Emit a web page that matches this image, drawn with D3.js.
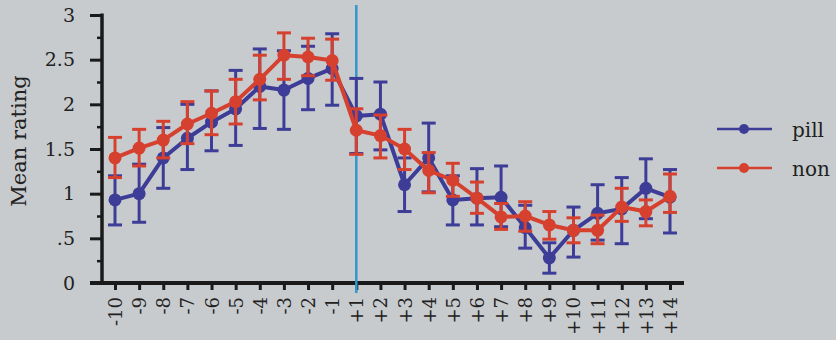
<!DOCTYPE html>
<html>
<head>
<meta charset="utf-8">
<script src="https://cdn.jsdelivr.net/npm/d3@7"></script>
<style>
  html, body { margin: 0; padding: 0; background: #c8cbce; }
  svg { display: block; }
  text { font-family: "DejaVu Serif", serif; fill: #222; }
</style>
</head>
<body>
<svg id="chart" width="836" height="340"></svg>
<script>
// Time points relative to the event (days before / after)
const categories = ["-10","-9","-8","-7","-6","-5","-4","-3","-2","-1",
  "+1","+2","+3","+4","+5","+6","+7","+8","+9","+10","+11","+12","+13","+14"];

// "pill" group: mean rating and error-bar bounds
const pillMean = [0.93, 1.00, 1.40, 1.62, 1.80, 1.95, 2.20, 2.16, 2.29, 2.40,
  1.87, 1.89, 1.10, 1.40, 0.93, 0.95, 0.96, 0.62, 0.28, 0.59, 0.78, 0.83, 1.06, 0.96];
const pillHigh = [1.20, 1.33, 1.74, 2.00, 2.15, 2.38, 2.62, 2.60, 2.65, 2.79,
  2.29, 2.25, 1.40, 1.79, 1.20, 1.28, 1.31, 0.87, 0.45, 0.85, 1.10, 1.18, 1.39, 1.27];
const pillLow = [0.65, 0.68, 1.06, 1.27, 1.48, 1.54, 1.73, 1.72, 1.94, 1.99,
  1.45, 1.49, 0.80, 1.02, 0.65, 0.65, 0.63, 0.39, 0.11, 0.29, 0.48, 0.44, 0.72, 0.56];

// "non" group: mean rating and error-bar bounds
const nonMean = [1.40, 1.51, 1.60, 1.78, 1.90, 2.03, 2.28, 2.55, 2.53, 2.49,
  1.71, 1.65, 1.50, 1.26, 1.15, 0.95, 0.74, 0.75, 0.65, 0.59, 0.59, 0.85, 0.80, 0.97];
const nonHigh = [1.63, 1.72, 1.81, 2.03, 2.15, 2.28, 2.55, 2.80, 2.74, 2.73,
  1.95, 1.88, 1.72, 1.46, 1.34, 1.13, 0.89, 0.91, 0.80, 0.73, 0.76, 1.06, 0.93, 1.22];
const nonLow = [1.18, 1.31, 1.40, 1.56, 1.66, 1.78, 2.05, 2.28, 2.32, 2.27,
  1.44, 1.40, 1.27, 1.01, 0.97, 0.78, 0.60, 0.58, 0.49, 0.45, 0.44, 0.69, 0.64, 0.79];

const yMajorTicks = [0, 0.5, 1, 1.5, 2, 2.5, 3];
const yMinorTicks = [0.25, 0.75, 1.25, 1.75, 2.25, 2.75];
const yTickLabels = ["0", ".5", "1", "1.5", "2", "2.5", "3"];
const eventMarker = "+1";

const seriesNames = ["pill", "non"];
const seriesColors = ["#3d3d97", "#d6412f"];

const svg = d3.select("#chart");

const x = d3.scalePoint().domain(categories).range([115, 670]);
const y = d3.scaleLinear().domain([0, 3]).range([283, 15]);

const axisLeftX = 102, axisY = 283;

// ---- Y axis ----
const yAxis = svg.append("g")
  .attr("transform", `translate(${axisLeftX},0)`)
  .call(d3.axisLeft(y).tickValues(yMajorTicks).tickSize(12).tickPadding(15)
    .tickFormat((d, i) => yTickLabels[i]));
yAxis.select(".domain").remove();
yAxis.selectAll(".tick line").attr("stroke", "#1a1a1a").attr("stroke-width", 3);
yAxis.selectAll(".tick text").attr("font-size", 19).attr("fill", "#222")
  .attr("font-family", "DejaVu Serif, serif");

const yMinor = svg.append("g")
  .attr("transform", `translate(${axisLeftX},0)`)
  .call(d3.axisLeft(y).tickValues(yMinorTicks).tickSize(5).tickFormat(""));
yMinor.select(".domain").remove();
yMinor.selectAll(".tick line").attr("stroke", "#1a1a1a").attr("stroke-width", 2.5);

svg.append("line")
  .attr("x1", axisLeftX).attr("x2", axisLeftX)
  .attr("y1", y(3) - 1.5).attr("y2", axisY)
  .attr("stroke", "#1a1a1a").attr("stroke-width", 3.5);

// ---- X axis ----
const xAxis = svg.append("g")
  .attr("transform", `translate(0,${axisY})`)
  .call(d3.axisBottom(x).tickSize(7).tickPadding(0));
xAxis.select(".domain").remove();
xAxis.selectAll(".tick line").attr("stroke", "#1a1a1a").attr("stroke-width", 3);
xAxis.selectAll(".tick text")
  .attr("font-size", 18).attr("fill", "#222")
  .attr("font-family", "DejaVu Serif, serif")
  .attr("text-anchor", "end")
  .attr("transform", "translate(0,14) rotate(-90)")
  .attr("x", 0).attr("y", 0).attr("dy", "0.36em");

svg.append("line")
  .attr("x1", 90).attr("x2", 684)
  .attr("y1", axisY).attr("y2", axisY)
  .attr("stroke", "#1a1a1a").attr("stroke-width", 4);

// ---- Event marker ----
svg.append("line")
  .attr("x1", x(eventMarker)).attr("x2", x(eventMarker))
  .attr("y1", 5).attr("y2", 293)
  .attr("stroke", "#2f97cc").attr("stroke-width", 2.5);

// ---- Series ----
const series = [
  { mean: pillMean, lo: pillLow, hi: pillHigh },
  { mean: nonMean, lo: nonLow, hi: nonHigh }
];

const line = d3.line()
  .x((d, i) => x(categories[i]))
  .y(d => y(d));

series.forEach((s, si) => {
  const color = seriesColors[si];
  const g = svg.append("g");
  const capHalf = 7;

  const bars = g.selectAll("g.err").data(categories).join("g").attr("class", "err");
  bars.append("line")
    .attr("x1", d => x(d)).attr("x2", d => x(d))
    .attr("y1", (d, i) => y(s.lo[i])).attr("y2", (d, i) => y(s.hi[i]))
    .attr("stroke", color).attr("stroke-width", 3);
  bars.append("line")
    .attr("x1", d => x(d) - capHalf).attr("x2", d => x(d) + capHalf)
    .attr("y1", (d, i) => y(s.hi[i])).attr("y2", (d, i) => y(s.hi[i]))
    .attr("stroke", color).attr("stroke-width", 3);
  bars.append("line")
    .attr("x1", d => x(d) - capHalf).attr("x2", d => x(d) + capHalf)
    .attr("y1", (d, i) => y(s.lo[i])).attr("y2", (d, i) => y(s.lo[i]))
    .attr("stroke", color).attr("stroke-width", 3);

  g.append("path")
    .datum(s.mean)
    .attr("d", line)
    .attr("fill", "none")
    .attr("stroke", color)
    .attr("stroke-width", 4)
    .attr("stroke-linejoin", "round");

  g.selectAll("circle").data(s.mean).join("circle")
    .attr("cx", (d, i) => x(categories[i]))
    .attr("cy", d => y(d))
    .attr("r", 6.5)
    .attr("fill", color);
});

// ---- Legend ----
const legend = svg.append("g");
seriesNames.forEach((name, i) => {
  const ly = 129 + i * 39;
  legend.append("line")
    .attr("x1", 717).attr("x2", 772).attr("y1", ly).attr("y2", ly)
    .attr("stroke", seriesColors[i]).attr("stroke-width", 2.5);
  legend.append("circle")
    .attr("cx", 744).attr("cy", ly).attr("r", 5)
    .attr("fill", seriesColors[i]);
  legend.append("text")
    .attr("x", 792).attr("y", ly + 2)
    .attr("font-size", 20)
    .attr("dominant-baseline", "middle")
    .text(name);
});

// ---- Y axis title ----
svg.append("text")
  .attr("transform", "translate(26,141) rotate(-90)")
  .attr("text-anchor", "middle")
  .attr("font-size", 21)
  .text("Mean rating");
</script>
</body>
</html>
